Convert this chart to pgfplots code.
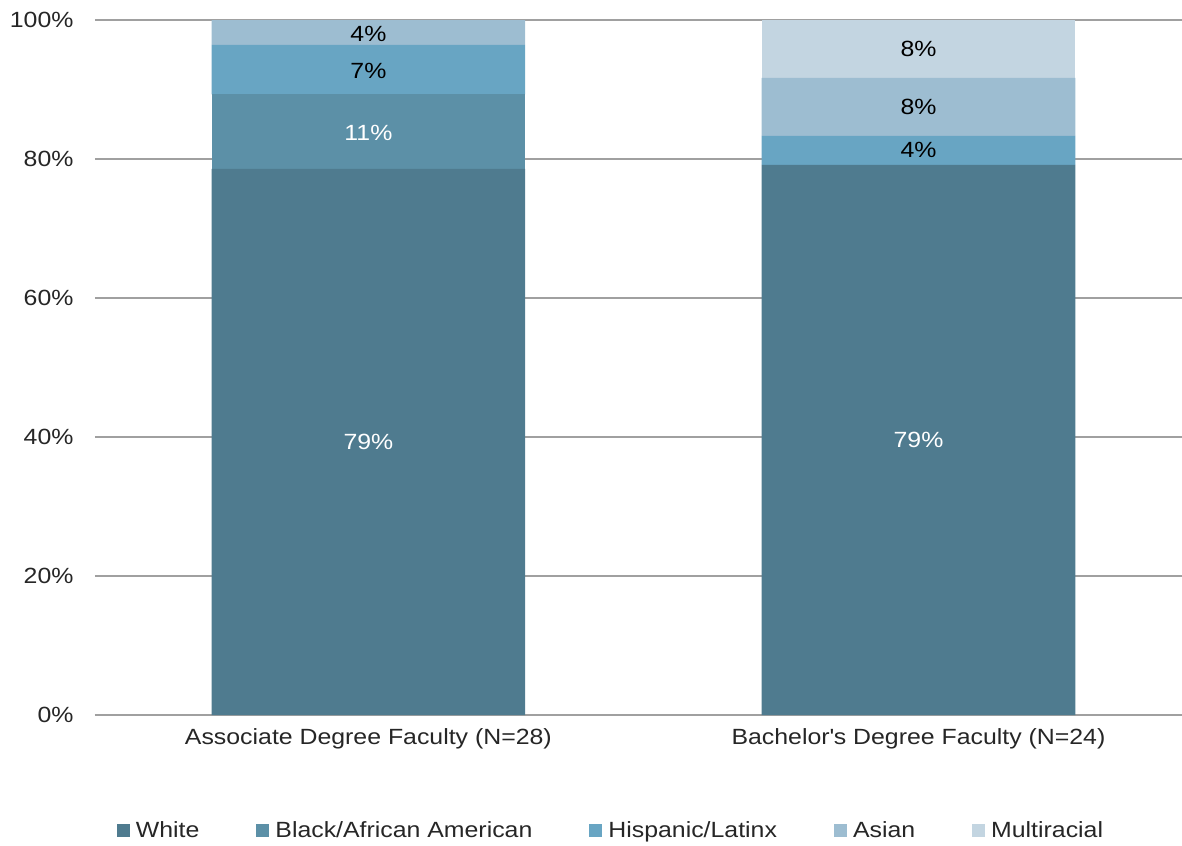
\documentclass[border=0pt]{standalone}
\usepackage{fontspec}
\setmainfont{Liberation Sans}[FakeStretch=1.13]
\usepackage{pgfplots}
\pgfplotsset{compat=1.18}
\definecolor{cWhite}{HTML}{4F7B8F}
\definecolor{cBlack}{HTML}{5C90A7}
\definecolor{cHisp}{HTML}{68A5C3}
\definecolor{cAsian}{HTML}{9DBDD1}
\definecolor{cMulti}{HTML}{C3D5E1}
\definecolor{gridc}{HTML}{A0A0A0}
\definecolor{txt}{HTML}{262626}
\begin{document}
\begin{tikzpicture}
\fontsize{22bp}{26bp}\selectfont
\useasboundingbox (-95bp,-131bp) rectangle (1087bp,715bp);
\begin{axis}[
  at={(0,0)}, anchor=south west,
  scale only axis, width=1087bp, height=695bp,
  ybar stacked, bar width=0.57,
  xmin=-0.497, xmax=1.479, ymin=0, ymax=100,
  xtick={0,1}, xticklabels={Associate Degree Faculty (N=28),Bachelor\textquotesingle s Degree Faculty (N=24)},
  ytick={0,20,40,60,80,100}, yticklabels={0\%,20\%,40\%,60\%,80\%,100\%},
  major tick length=0pt,
  axis lines*=left,
  y axis line style={draw=none},
  x axis line style={draw=gridc, line width=1.4bp},
  ymajorgrids, major grid style={draw=gridc, line width=1.4bp},
  tick label style={font=\fontsize{22bp}{26bp}\selectfont, text=txt},
  yticklabel style={xshift=-14bp},
  xticklabel style={yshift=-6bp},
  legend style={at={(0.4747,-0.1669)}, anchor=center, draw=none, fill=none,
    legend columns=5, font=\fontsize{22bp}{26bp}\selectfont, text=txt,
    /tikz/every even column/.append style={column sep=55bp},
    /tikz/every odd column/.append style={column sep=4bp},
    nodes={inner sep=2bp}},
  legend image code/.code={\path[#1, draw=none] (0bp,-6.5bp) rectangle (13bp,6.5bp);},
]
\addplot[fill=cWhite, draw=none] coordinates {(0,78.57) (1,79.17)};
\addplot[fill=cBlack, draw=none] coordinates {(0,10.71) (1,0)};
\addplot[fill=cHisp, draw=none] coordinates {(0,7.14) (1,4.17)};
\addplot[fill=cAsian, draw=none] coordinates {(0,3.57) (1,8.33)};
\addplot[fill=cMulti, draw=none] coordinates {(0,0) (1,8.33)};
\legend{White,Black/African American,Hispanic/Latinx,Asian,Multiracial}
\end{axis}
\begin{axis}[
  at={(0,0)}, anchor=south west,
  scale only axis, width=1087bp, height=695bp,
  xmin=-0.497, xmax=1.479, ymin=0, ymax=100,
  hide axis,
  nodes near coords, point meta=explicit symbolic,
  every node near coord/.style={anchor=center, font=\fontsize{22bp}{26bp}\selectfont},
]
\addplot[draw=none, nodes near coords, every node near coord/.append style={text=white}]
  coordinates {(0,39.29)[79\%] (0,83.7)[11\%] (1,39.6)[79\%]};
\addplot[draw=none, nodes near coords, every node near coord/.append style={text=black}]
  coordinates {(0,92.6)[7\%] (0,98.0)[4\%] (1,81.25)[4\%] (1,87.5)[8\%] (1,95.8)[8\%]};
\end{axis}
\end{tikzpicture}
\end{document}
